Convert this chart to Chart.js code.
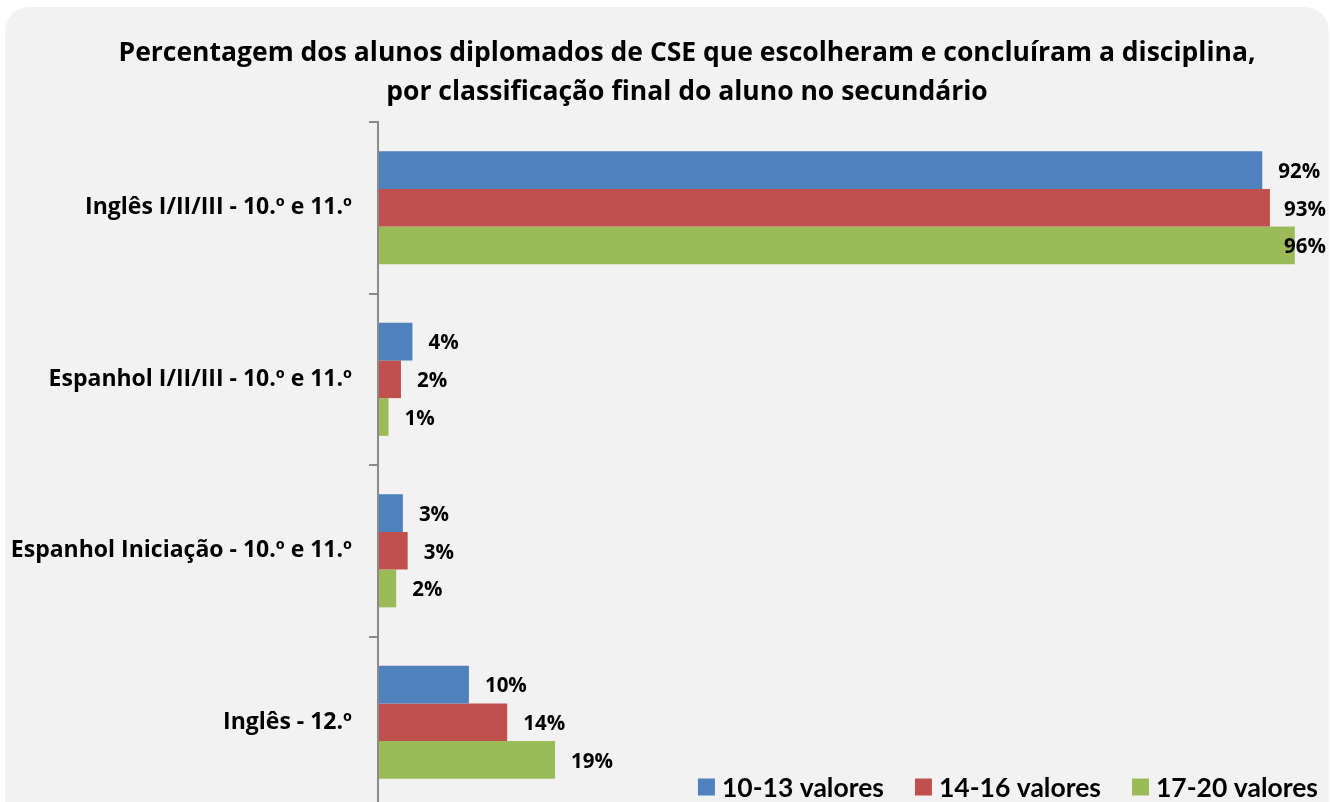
<!DOCTYPE html>
<html>
<head>
<meta charset="utf-8">
<script src="https://cdn.jsdelivr.net/npm/chart.js@4.4.1/dist/chart.umd.min.js"></script>
<style>
  html, body { margin:0; padding:0; width:1330px; height:802px; overflow:hidden; background:#ffffff; }
  #panel { position:absolute; left:5px; top:7px; width:1324px; height:900px; background:#f2f2f2; border-radius:24px; }
  #wrap { position:absolute; left:0; top:0; width:1340px; height:830px; }
</style>
</head>
<body>
<div id="panel"></div>
<div id="wrap"><canvas id="c" width="1340" height="830"></canvas></div>
<script>
const titleLines = [
  "Percentagem dos alunos diplomados de CSE que escolheram e concluíram a disciplina,",
  "por classificação final do aluno no secundário"
];
const categories = [
  "Inglês I/II/III - 10.º e 11.º",
  "Espanhol I/II/III - 10.º e 11.º",
  "Espanhol Iniciação - 10.º e 11.º",
  "Inglês - 12.º"
];
const seriesNames = ["10-13 valores", "14-16 valores", "17-20 valores"];
const values1013 = [92.4, 3.6, 2.6, 9.5];
const values1416 = [93.2, 2.4, 3.1, 13.5];
const values1720 = [95.8, 1.1, 1.9, 18.5];
const seriesColors = ["#4f81bd", "#c0504d", "#9bbb59"];
const xMin = 0, xMax = 100;

const FONT = "'Open Sans', Lato, sans-serif";
const LEGEND_FONT = "Lato, 'Open Sans', sans-serif";

const titlePlugin = {
  id: 'customTitle',
  afterDraw(chart) {
    const ctx = chart.ctx;
    ctx.save();
    ctx.fillStyle = '#000';
    ctx.font = "bold 26.5px " + FONT;
    ctx.textAlign = 'center';
    ctx.textBaseline = 'alphabetic';
    ctx.fillText(titleLines[0], 687, 61);
    ctx.fillText(titleLines[1], 687, 100);
    ctx.restore();
  }
};

const labelPlugin = {
  id: 'barLabels',
  afterDatasetsDraw(chart) {
    const ctx = chart.ctx;
    ctx.save();
    ctx.fillStyle = '#000';
    ctx.font = "bold 20.5px " + FONT;
    ctx.textAlign = 'left';
    ctx.textBaseline = 'middle';
    chart.data.datasets.forEach((ds, di) => {
      const meta = chart.getDatasetMeta(di);
      meta.data.forEach((el, i) => {
        const txt = Math.round(ds.data[i]) + '%';
        const w = ctx.measureText(txt).width;
        let tx = el.x + 16;
        if (tx + w > 1326) tx = 1326 - w;
        ctx.fillText(txt, tx, el.y + 2);
      });
    });
    ctx.restore();
  }
};

const legendPlugin = {
  id: 'customLegend',
  afterDraw(chart) {
    const ctx = chart.ctx;
    ctx.save();
    ctx.font = "bold 26.5px " + LEGEND_FONT;
    ctx.textBaseline = 'middle';
    const box = 17, gapBox = 7, gapItem = 31, right = 1318, cy = 787;
    const widths = chart.data.datasets.map(d => ctx.measureText(d.label).width);
    let total = 0;
    widths.forEach((w, i) => { total += box + gapBox + w + (i < widths.length - 1 ? gapItem : 0); });
    let x = right - total;
    chart.data.datasets.forEach((d, i) => {
      ctx.fillStyle = d.backgroundColor;
      ctx.fillRect(x, cy - box / 2, box, box);
      ctx.fillStyle = '#000';
      ctx.fillText(d.label, x + box + gapBox, cy + 1);
      x += box + gapBox + widths[i] + gapItem;
    });
    ctx.restore();
  }
};

new Chart(document.getElementById('c'), {
  type: 'bar',
  data: {
    labels: categories,
    datasets: [
      { label: seriesNames[0], data: values1013, backgroundColor: seriesColors[0] },
      { label: seriesNames[1], data: values1416, backgroundColor: seriesColors[1] },
      { label: seriesNames[2], data: values1720, backgroundColor: seriesColors[2] }
    ]
  },
  options: {
    indexAxis: 'y',
    responsive: false,
    animation: false,
    devicePixelRatio: 1,
    layout: { padding: { top: 122, bottom: 22, left: 0, right: 5 } },
    datasets: { bar: { barPercentage: 1.0, categoryPercentage: 0.66, borderWidth: 0 } },
    plugins: {
      legend: { display: false },
      title: { display: false },
      tooltip: { enabled: false }
    },
    scales: {
      x: { display: false, min: xMin, max: xMax },
      y: {
        afterFit(scale) { scale.width = 378; scale.paddingTop = 0; scale.paddingBottom = 0; },
        grid: { display: true, offset: true, drawOnChartArea: false, drawTicks: true, tickLength: 9, color: '#8a8a8a', lineWidth: 2 },
        border: { display: true, color: '#8a8a8a', width: 2, z: 1 },
        ticks: { color: '#000', padding: 17, font: { family: FONT, weight: 'bold', size: 23 } }
      }
    }
  },
  plugins: [titlePlugin, labelPlugin, legendPlugin]
});
</script>
</body>
</html>
